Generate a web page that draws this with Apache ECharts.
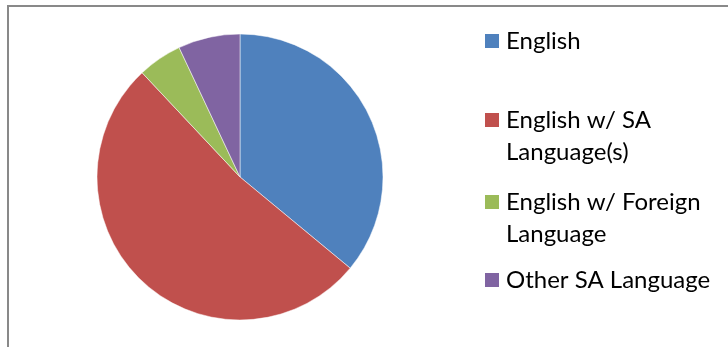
<!DOCTYPE html>
<html>
<head>
<meta charset="utf-8">
<script src="https://cdn.jsdelivr.net/npm/echarts@6/dist/echarts.min.js"></script>
<style>
html,body{margin:0;padding:0;background:#fff;}
#chart{width:728px;height:347px;}
</style>
</head>
<body>
<div id="chart"></div>
<script>
const categories = ['English', 'English w/ SA\nLanguage(s)', 'English w/ Foreign\nLanguage', 'Other SA Language'];
const values = [36, 52, 5, 7];
const colors = ['#4F81BD', '#C0504D', '#9BBB59', '#8064A2'];

const chart = echarts.init(document.getElementById('chart'), null, {renderer: 'canvas'});
const lineH = 32;
const fontSize = 24;
const legendLeft = 485;
const textX = 506;
const legendTops = [41, 120, 202, 280];

const legends = categories.map((name, i) => ({
  orient: 'vertical',
  left: legendLeft,
  top: legendTops[i] - lineH / 2,
  itemWidth: 14,
  itemHeight: 14,
  itemGap: 0,
  padding: 0,
  selectedMode: false,
  icon: 'rect',
  itemStyle: {borderWidth: 0},
  data: [name],
  formatter: n => n.split('\n')[0],
  textStyle: {
    fontFamily: 'Lato',
    fontSize: fontSize,
    color: '#000',
    lineHeight: lineH,
    padding: [0, 0, 0, 2]
  }
}));

// continuation lines of the wrapped legend entries
const extraLines = [];
categories.forEach((name, i) => {
  const parts = name.split('\n');
  parts.slice(1).forEach((p, k) => {
    extraLines.push({
      type: 'text',
      x: textX,
      y: legendTops[i] + lineH * (k + 1),
      silent: true,
      style: {
        text: p,
        fontFamily: 'Lato',
        fontSize: fontSize,
        fill: '#000',
        verticalAlign: 'middle',
        align: 'left'
      }
    });
  });
});

chart.setOption({
  animation: false,
  color: colors,
  graphic: [{
    type: 'rect',
    shape: {x: 8, y: 6, width: 800, height: 400},
    style: {fill: 'none', stroke: '#898989', lineWidth: 2},
    silent: true
  }].concat(extraLines),
  legend: legends,
  series: [{
    type: 'pie',
    center: [240, 177],
    radius: 143,
    startAngle: 90,
    clockwise: true,
    label: {show: false},
    labelLine: {show: false},
    emphasis: {disabled: true},
    itemStyle: {borderColor: '#fff', borderWidth: 0.5},
    data: categories.map((n, i) => ({name: n, value: values[i]}))
  }]
});
</script>
</body>
</html>
